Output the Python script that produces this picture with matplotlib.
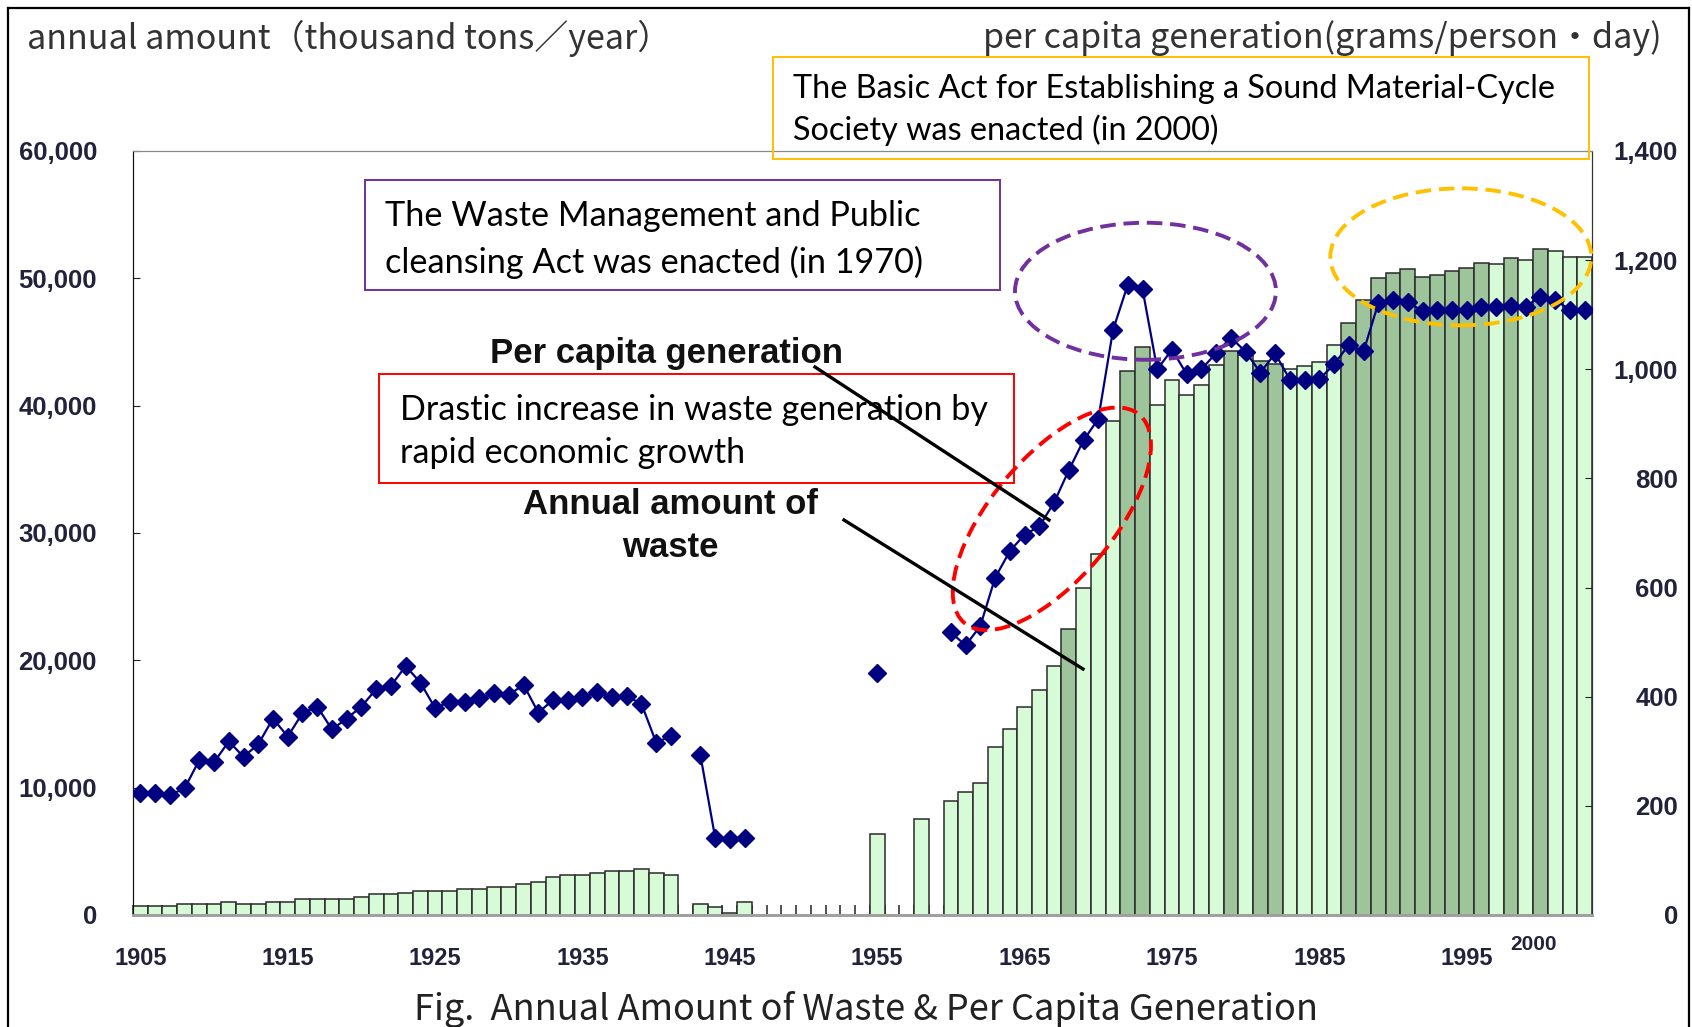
import numpy as np
import matplotlib
matplotlib.use("Agg")
import matplotlib.pyplot as plt
from matplotlib.patches import Ellipse, Rectangle
from matplotlib.lines import Line2D
from matplotlib.transforms import IdentityTransform, blended_transform_factory

nan = np.nan
years = np.arange(1905, 2004)

# annual amount of waste (thousand tons / year)
waste = [700, 700, 700, 900, 900, 900, 1050, 860, 860, 1050,
         1050, 1230, 1230, 1230, 1230, 1440, 1620, 1620, 1750, 1880,
         1880, 1880, 2070, 2070, 2220, 2220, 2430, 2620, 3010, 3140,
         3140, 3270, 3450, 3450, 3610, 3270, 3140,
         nan, 900, 650, 130, 1050,
         nan, nan, nan, nan, nan, nan, nan, nan,
         6330, nan, nan, 7540, nan,
         8950, 9630, 10340, 13210, 14600, 16300, 17660, 19550, 22450, 25700,
         28370, 38830, 42730, 44600, 40050, 42000, 40830, 41640, 43200, 44290,
         44000, 43500, 43300, 42860, 43100, 43400, 44800, 46490, 48300, 50000,
         50440, 50700, 50130, 50240, 50600, 50780, 51220, 51130, 51560, 51430,
         52330, 52150, 51640, 51640]

# per capita generation (grams / person-day)
per_capita = [223, 224, 220, 232, 284, 280, 318, 290, 313, 360,
              327, 370, 382, 340, 360, 382, 414, 420, 456, 426,
              379, 391, 391, 397, 406, 403, 422, 371, 394, 394,
              400, 408, 399, 401, 387, 316, 328,
              nan, 293, 142, 139, 142,
              nan, nan, nan, nan, nan, nan, nan, nan,
              443, nan, nan, nan, nan,
              518, 494, 530, 618, 667, 697, 712, 756, 815, 870,
              909, 1072, 1155, 1147, 1000, 1036, 991, 1000, 1030, 1058,
              1032, 994, 1029, 981, 981, 982, 1009, 1045, 1033, 1121,
              1127, 1124, 1106, 1109, 1109, 1109, 1115, 1115, 1116, 1115,
              1133, 1127, 1109, 1109]

dark_years = [1968, 1972, 1973, 1979, 1981, 1982, 1987, 1988, 1989, 1990,
              1991, 1992, 1993, 1994, 1995, 1996, 1998, 2000]

left_ticks = [0, 10000, 20000, 30000, 40000, 50000, 60000]
right_ticks = [0, 200, 400, 600, 800, 1000, 1200, 1400]
year_ticks = [1905, 1915, 1925, 1935, 1945, 1955, 1965, 1975, 1985, 1995]

W, H = 1692, 1027
def fx(px):
    return px / W
def fy(py):
    return 1 - py / H

plt.rcParams['font.family'] = ['Liberation Sans', 'Noto Sans CJK JP']

fig = plt.figure(figsize=(W / 100, H / 100), dpi=100)
ax = fig.add_axes([fx(133), fy(915), (1592 - 133) / W, (915 - 151) / H])
ax2 = ax.twinx()

waste = np.array(waste, dtype=float)
ok = ~np.isnan(waste)
colors = np.where(np.isin(years, dark_years), '#9dc49b', '#d7fbd6')
ax.bar(years[ok], waste[ok], width=1.0, color=colors[ok],
       edgecolor='#2a2a2a', linewidth=1.1)

ax2.plot(years, per_capita, color='#000080', marker='D', markersize=9,
         linewidth=1.6, zorder=3)

ax.set_xlim(1904.5, 2003.5)
ax.set_ylim(0, 60000)
ax2.set_ylim(0, 1400)
ax.set_axisbelow(True)

tick_font = dict(fontsize=18.5, fontweight='bold', color='#22223a')
ax.set_yticks(left_ticks, [f'{v:,}' for v in left_ticks], **tick_font)
ax2.set_yticks(right_ticks, [f'{v:,}' for v in right_ticks], ha='right', **tick_font)
ax.tick_params(axis='y', direction='in', length=5, pad=26, color='#222')
ax2.tick_params(axis='y', direction='in', length=5, pad=62, color='#222')

ax.set_xticks(year_ticks, [str(y) for y in year_ticks], fontsize=17,
              fontweight='bold', color='#22223a')
ax.set_xticks(np.arange(1904.5, 2004, 1), minor=True)
ax.tick_params(axis='x', which='major', length=0, pad=23)
ax.tick_params(axis='x', which='minor', direction='in', length=7,
               width=1.2, color='#333')
trans = blended_transform_factory(ax.transData, ax.transAxes)
ax.text(1999.5, -0.039, '2000', transform=trans, ha='center', va='center',
        fontsize=15, fontweight='bold', color='#22223a')

for a in (ax, ax2):
    a.spines['left'].set_color('#111')
    a.spines['right'].set_color('#333')
    a.spines['top'].set_color('#888')
    a.spines['bottom'].set_color('#a0a0a0')
    a.spines['bottom'].set_linewidth(2)

# axis titles and caption
cjk = ['Noto Sans CJK JP']
fig.text(fx(27), fy(38), 'annual amount（thousand tons／year）', family=cjk,
         fontsize=24.5, color='#333', ha='left', va='center')
fig.text(fx(1662), fy(38), 'per capita generation(grams/person・day)', family=cjk,
         fontsize=24.5, color='#333', ha='right', va='center')
fig.text(fx(866), fy(1009), 'Fig.  Annual Amount of Waste & Per Capita Generation',
         family=cjk, fontsize=26, color='#222', ha='center', va='center')

# outer frame
for xs, ys in [((8, 8), (8, H)), ((8, W - 3), (8, 8)), ((W - 3, W - 3), (8, H))]:
    fig.add_artist(Line2D([fx(x) for x in xs], [fy(y) for y in ys],
                          color='black', linewidth=1.6))

# annotation boxes
boxes = [
    ((773, 57, 1589, 159), '#FFC000', 793, (89, 130), 23.3,
     'The Basic Act for Establishing a Sound Material-Cycle', 'Society was enacted (in 2000)'),
    ((365, 180, 1000, 290), '#7030A0', 385, (216, 262), 24.7,
     'The Waste Management and Public', 'cleansing Act was enacted (in 1970)'),
    ((379, 374, 1014, 483), '#FF0000', 400, (410, 453), 24.6,
     'Drastic increase in waste generation by', 'rapid economic growth'),
]
for (x0, y0, x1, y1), ec, tx, lines, fs, l1, l2 in boxes:
    fig.add_artist(Rectangle((fx(x0), fy(y1)), (x1 - x0) / W, (y1 - y0) / H,
                             fill=False, edgecolor=ec, linewidth=1.4))
    for ty, s in zip(lines, (l1, l2)):
        fig.text(fx(tx), fy(ty), s, family='Lato', fontsize=fs, color='black',
                 ha='left', va='center')

fig.text(fx(666), fy(354), 'Per capita generation', fontsize=25,
         fontweight='bold', color='#111', ha='center', va='center')
fig.text(fx(670), fy(526), 'Annual amount of\nwaste', fontsize=25,
         fontweight='bold', color='#111', ha='center', va='center',
         linespacing=1.4)
fig.add_artist(Line2D([fx(815), fx(1049)], [fy(367), fy(520)], color='black', linewidth=2.4))
fig.add_artist(Line2D([fx(844), fx(1083)], [fy(520), fy(669)], color='black', linewidth=2.4))

# dashed highlight ellipses (centre in data units, size in pixels)
ellipses = [((1966.85, 726), 272, 122, 50, '#FF0000'),
            ((1973.2, 1143), 261, 137, 0, '#7030A0'),
            ((1994.6, 1206), 261, 137, 0, '#FFC000')]
for (cx, cy), w, h, ang, ec in ellipses:
    c = ax2.transData.transform((cx, cy))
    fig.add_artist(Ellipse(c, w, h, angle=ang, fill=False, edgecolor=ec,
                           linewidth=2.8, linestyle=(0, (4, 2)),
                           transform=IdentityTransform()))

fig.savefig('out.png', dpi=100)
